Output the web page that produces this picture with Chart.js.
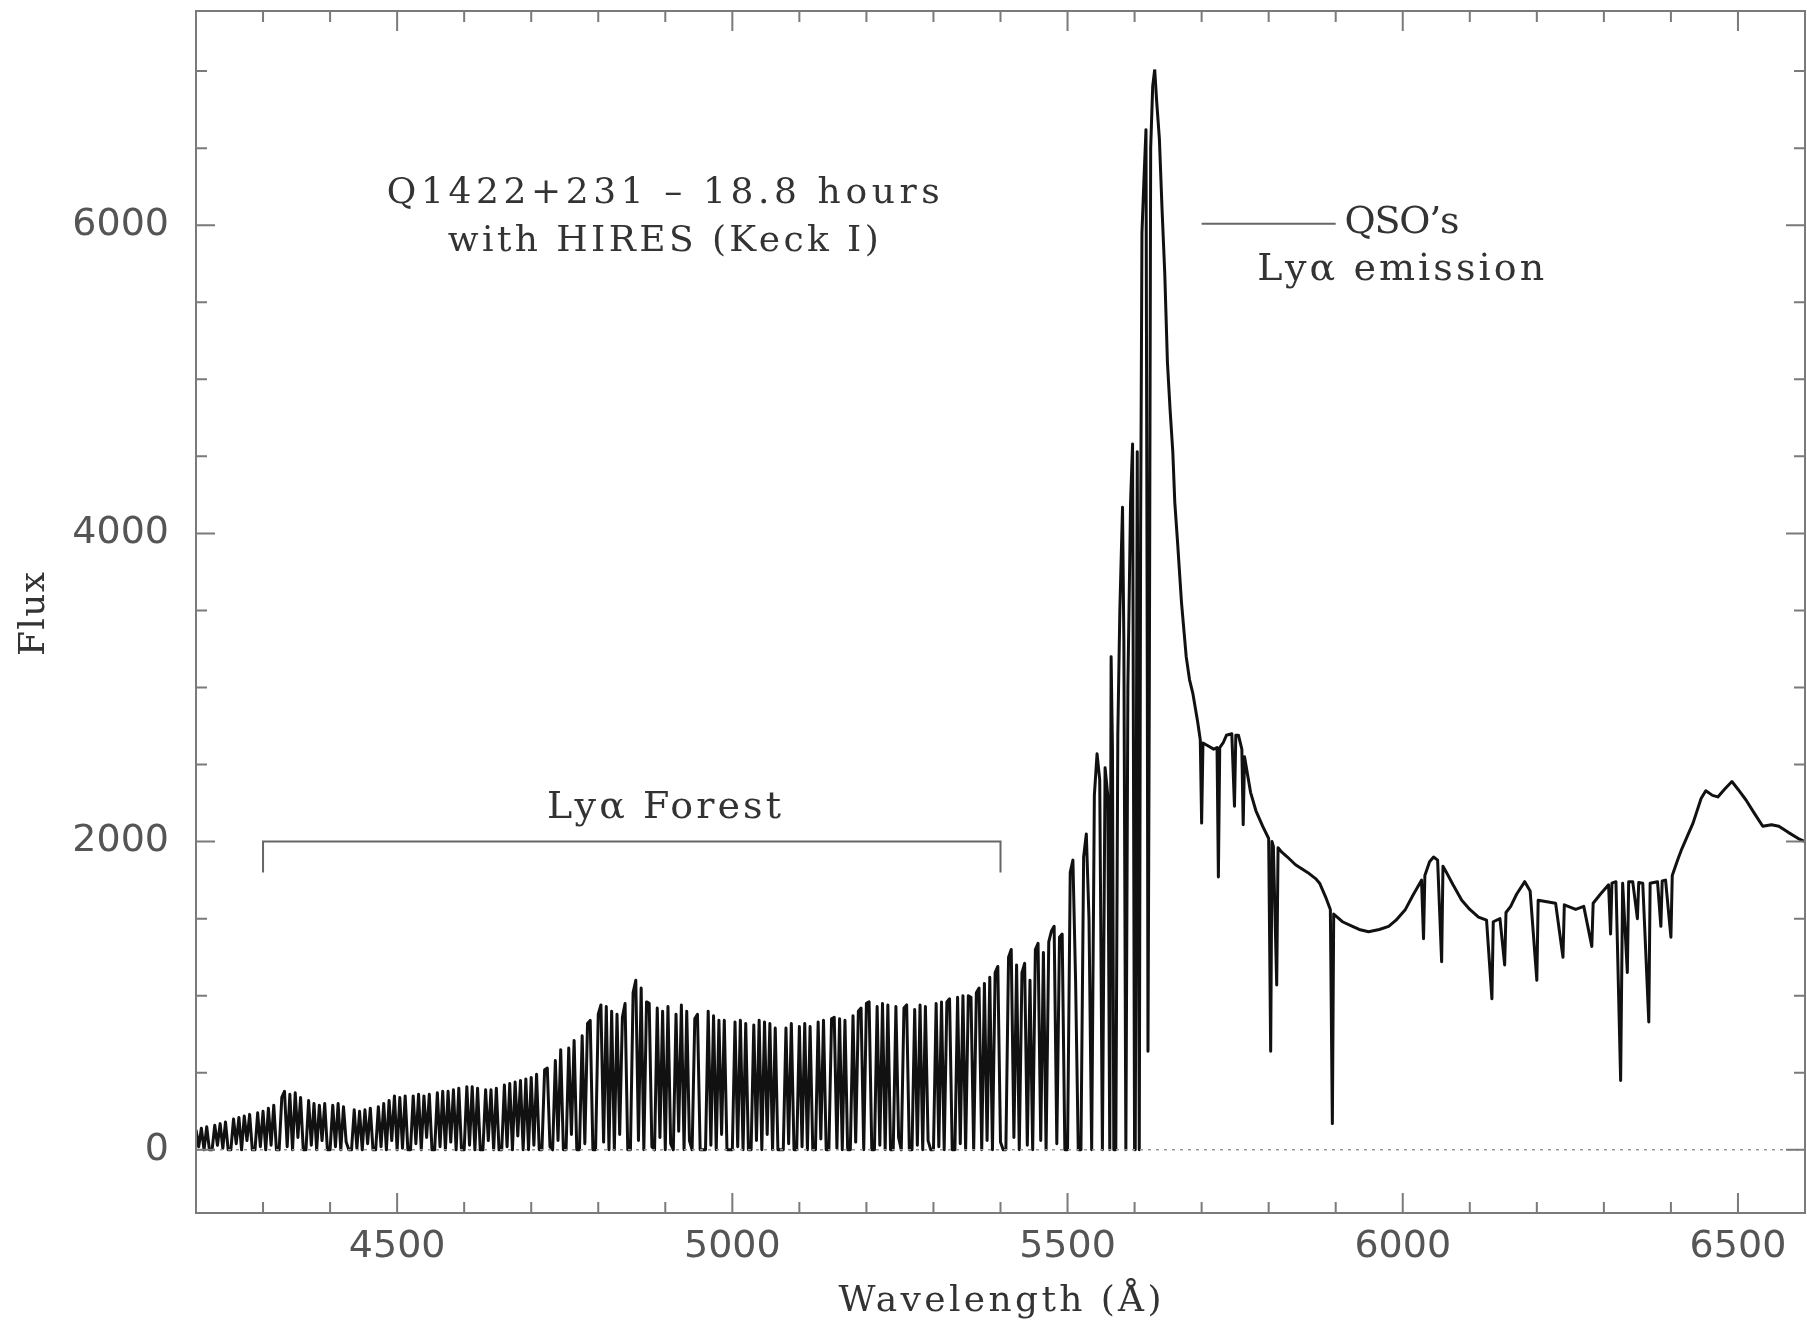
<!DOCTYPE html>
<html>
<head>
<meta charset="utf-8">
<script src="https://cdn.jsdelivr.net/npm/chart.js@4.4.1/dist/chart.umd.min.js"></script>
<style>
  html, body { margin: 0; padding: 0; background: #fff; }
  #wrap { width: 1807px; height: 1326px; }
</style>
</head>
<body>
<div id="wrap"><canvas id="spec"></canvas></div>
<script>
// ——— Data read off the plot ———
// Lyα forest, sampled every 4 Å from 4200 Å
const forestStart = 4200, forestStep = 4;
const forestFlux = [
  130, 20, 140, 0, 150, 0, 0, 160, 30, 170, 10, 180, 0, 0, 200, 40, 210, 0, 220, 60, 230, 0, 0, 240, 20,
  250, 0, 270, 30, 290, 0, 0, 340, 380, 20, 360, 0, 370, 80, 340, 0, 0, 320, 30, 300, 0, 290, 60, 300, 0,
  0, 290, 20, 300, 0, 280, 50, 0, 0, 260, 10, 250, 0, 260, 40, 270, 0, 0, 280, 20, 300, 0, 320, 60, 350,
  0, 340, 10, 350, 0, 0, 350, 40, 360, 0, 350, 80, 360, 0, 0, 370, 20, 380, 0, 380, 50, 390, 0, 400, 0,
  0, 410, 30, 410, 0, 400, 0, 0, 390, 60, 390, 0, 400, 0, 0, 420, 20, 430, 0, 440, 90, 450, 0, 460, 0,
  470, 30, 490, 0, 0, 520, 530, 20, 0, 580, 60, 650, 0, 0, 660, 100, 710, 0, 0, 740, 40, 820, 840, 0, 0,
  880, 940, 50, 930, 0, 900, 0, 880, 100, 860, 950, 0, 0, 1020, 1100, 60, 1050, 0, 960, 950, 20, 0, 920, 80, 900,
  0, 930, 40, 0, 880, 120, 940, 0, 900, 60, 0, 850, 880, 0, 0, 0, 900, 30, 870, 0, 840, 100, 840, 0, 0,
  0, 830, 20, 840, 0, 820, 0, 0, 810, 60, 840, 0, 830, 100, 820, 0, 790, 0, 0, 0, 790, 40, 820, 0, 0,
  800, 20, 820, 0, 800, 0, 0, 830, 70, 840, 0, 0, 850, 860, 10, 850, 0, 840, 0, 0, 870, 50, 900, 920, 0,
  950, 960, 0, 0, 930, 30, 950, 0, 940, 0, 0, 930, 80, 0, 920, 940, 0, 0, 910, 30, 940, 0, 930, 60, 0,
  0, 950, 20, 960, 0, 960, 980, 0, 0, 990, 40, 1000, 0, 1000, 990, 0, 1020, 1050, 0, 1080, 60, 1120, 0, 1150, 1190,
  50, 0, 0, 1250, 1300, 80, 1200, 0, 1150, 1210, 30, 1100, 0, 1300, 1340, 60, 1280, 0, 1350, 1420, 1450, 40, 1380, 1400, 0,
  0, 1800, 1880, 1100, 0, 0, 1900, 2050, 1500, 0, 2300, 2570, 2400, 0, 2480, 2300
];

// blue wing of the Lyα emission line
const peakWave = [5563, 5565, 5567, 5569, 5572, 5575, 5578, 5582, 5584, 5587, 5590, 5594, 5597, 5600,
                  5601, 5604, 5606, 5607, 5609, 5611, 5614, 5617, 5619, 5620, 5622, 5624, 5627, 5630];
const peakFlux = [0, 3200, 2600, 0, 0, 2700, 3500, 4170, 3300, 0, 3000, 4200, 4580, 0,
                  0, 4530, 1500, 0, 4000, 5950, 6300, 6620, 3000, 640, 3000, 6500, 6900, 7010];

// red side: emission wing + continuum with metal lines
const redWave = [
  5630, 5633, 5637, 5641, 5645, 5649, 5653, 5657, 5660, 5664, 5670, 5677, 5682, 5687, 5694, 5698, 5700, 5702,
  5710, 5718, 5723, 5725, 5727, 5732, 5737, 5745, 5749, 5751, 5755, 5760, 5762, 5764, 5773, 5781, 5791, 5800,
  5803, 5805, 5807, 5812, 5814, 5820, 5828, 5840, 5858, 5870, 5876, 5885, 5892, 5895, 5897, 5910, 5925, 5935,
  5949, 5965, 5979, 5990, 6004, 6015, 6028, 6031, 6033, 6040, 6046, 6052, 6058, 6060, 6064, 6075, 6088, 6100,
  6113, 6125, 6133, 6135, 6145, 6152, 6154, 6161, 6170, 6182, 6190, 6200, 6202, 6215, 6228, 6239, 6241, 6258,
  6270, 6282, 6284, 6295, 6307, 6310, 6312, 6318, 6325, 6328, 6335, 6337, 6343, 6350, 6352, 6358, 6367, 6369,
  6380, 6385, 6387, 6392, 6400, 6402, 6410, 6416, 6425, 6433, 6445, 6452, 6462, 6470, 6480, 6491, 6500, 6512,
  6525, 6537, 6550, 6561, 6575, 6590, 6600
];
const redFlux = [
  7010, 6800, 6560, 6100, 5690, 5110, 4800, 4530, 4200, 3950, 3550, 3200, 3050, 2960, 2780, 2660, 2120, 2640,
  2620, 2600, 2610, 1770, 2610, 2640, 2690, 2700, 2230, 2690, 2690, 2600, 2110, 2550, 2320, 2200, 2100, 2020,
  640, 2000, 1970, 1070, 1960, 1930, 1900, 1850, 1800, 1760, 1730, 1640, 1560, 170, 1530, 1480, 1450, 1430,
  1415, 1430, 1450, 1490, 1560, 1650, 1750, 1370, 1780, 1870, 1900, 1880, 1220, 1840, 1810, 1720, 1620, 1560,
  1510, 1490, 980, 1480, 1500, 1200, 1540, 1580, 1660, 1740, 1680, 1100, 1620, 1610, 1600, 1250, 1590, 1560,
  1580, 1320, 1600, 1660, 1720, 1400, 1730, 1740, 450, 1730, 1150, 1740, 1740, 1500, 1735, 1730, 830, 1730,
  1740, 1450, 1745, 1750, 1380, 1780, 1880, 1950, 2040, 2120, 2280, 2330, 2300, 2290, 2340, 2390, 2340, 2270,
  2180, 2100, 2110, 2100, 2060, 2020, 2000
];

// axes
const xRange = [4200, 6600], yRange = [-410, 7390];
const xTicks = [4500, 5000, 5500, 6000, 6500];
const yTicks = [0, 2000, 4000, 6000];

// annotation marks (data units)
const forestBracket = [[4300, 1800], [4300, 2000], [5400, 2000], [5400, 1800]];
const qsoPointer = [[5700, 6010], [5900, 6010]];

const toXY = (w, f) => w.map((v, i) => ({ x: v, y: f[i] }));
const forestData = forestFlux.map((f, i) => ({ x: forestStart + i * forestStep, y: f }))
  .concat(toXY(peakWave, peakFlux));

// ——— Frame, inward ticks and labels ———
const SERIF = '"DejaVu Serif", "Liberation Serif", serif';

function fitText(ctx, str, cx, cy, width, size) {
  ctx.font = size + 'px ' + SERIF;
  ctx.letterSpacing = '0px';
  const n = Array.from(str).length;
  const w0 = ctx.measureText(str).width;
  ctx.letterSpacing = ((width - w0) / Math.max(n - 1, 1)) + 'px';
  ctx.textAlign = 'left';
  ctx.textBaseline = 'middle';
  ctx.fillText(str, cx - width / 2, cy);
  ctx.letterSpacing = '0px';
}

const overlay = {
  id: 'overlay',
  afterDatasetsDraw(chart) {
    const { ctx, chartArea: a, scales: { x, y } } = chart;
    ctx.save();
    ctx.strokeStyle = '#7a7a7a';
    ctx.lineWidth = 2;
    ctx.strokeRect(a.left, a.top, a.right - a.left, a.bottom - a.top);
    ctx.beginPath();
    for (let v = 4300; v <= 6500; v += 100) {
      const px = x.getPixelForValue(v), len = v % 500 === 0 ? 20 : 11;
      ctx.moveTo(px, a.bottom); ctx.lineTo(px, a.bottom - len);
      ctx.moveTo(px, a.top); ctx.lineTo(px, a.top + len);
    }
    for (let v = 0; v <= 7000; v += 500) {
      const py = y.getPixelForValue(v), len = v % 2000 === 0 ? 19 : 11;
      ctx.moveTo(a.left, py); ctx.lineTo(a.left + len, py);
      ctx.moveTo(a.right, py); ctx.lineTo(a.right - len, py);
    }
    ctx.stroke();

    ctx.fillStyle = '#333';
    const X = v => x.getPixelForValue(v), Y = v => y.getPixelForValue(v);
    fitText(ctx, 'Q1422+231 \u2013 18.8 hours', X(4897), Y(6208), 553, 36);
    fitText(ctx, 'with HIRES (Keck I)', X(4897), Y(5895), 431, 36);
    fitText(ctx, 'Ly\u03b1 Forest', X(4898), Y(2215), 234, 38);
    fitText(ctx, 'QSO\u2019s', X(5999), Y(6015), 115, 38);
    fitText(ctx, 'Ly\u03b1 emission', X(5997), Y(5709), 287, 38);

    // axis titles
    fitText(ctx, 'Wavelength (\u00c5)', 1000, 1302, 323, 36);
    ctx.translate(35, 614);
    ctx.rotate(-Math.PI / 2);
    fitText(ctx, 'Flux', 0, 0, 84, 36);
    ctx.restore();
  }
};

new Chart(document.getElementById('spec'), {
  type: 'line',
  data: {
    datasets: [
      { data: [{ x: xRange[0], y: 0 }, { x: xRange[1], y: 0 }], borderColor: '#9a9a9a',
        borderWidth: 1.5, borderDash: [3, 5] },
      { data: forestBracket.map(p => ({ x: p[0], y: p[1] })), borderColor: '#666', borderWidth: 2 },
      { data: qsoPointer.map(p => ({ x: p[0], y: p[1] })), borderColor: '#666', borderWidth: 2 },
      { data: forestData, borderColor: '#111', borderWidth: 3, borderJoinStyle: 'round' },
      { data: toXY(redWave, redFlux), borderColor: '#111', borderWidth: 3, borderJoinStyle: 'round' }
    ]
  },
  options: {
    responsive: true,
    maintainAspectRatio: false,
    animation: false,
    parsing: false,
    normalized: true,
    layout: { padding: { top: 11, right: 2, left: 0, bottom: 0 } },
    elements: { point: { radius: 0 }, line: { tension: 0, fill: false } },
    plugins: { legend: { display: false }, tooltip: { enabled: false } },
    scales: {
      x: {
        type: 'linear', min: xRange[0], max: xRange[1],
        grid: { display: false, drawTicks: false }, border: { display: false },
        afterBuildTicks: s => { s.ticks = xTicks.map(v => ({ value: v })); },
        afterFit: s => { s.height = 113; s.paddingLeft = 0; s.paddingRight = 0; },
        ticks: { padding: 11, color: '#555', maxRotation: 0, callback: v => String(v),
                 font: { family: '"DejaVu Sans", sans-serif', size: 38 } }
      },
      y: {
        type: 'linear', min: yRange[0], max: yRange[1],
        grid: { display: false, drawTicks: false }, border: { display: false },
        afterBuildTicks: s => { s.ticks = yTicks.map(v => ({ value: v })); },
        afterFit: s => { s.width = 196; s.paddingTop = 0; s.paddingBottom = 0; },
        ticks: { padding: 27, color: '#555', callback: v => String(v),
                 font: { family: '"DejaVu Sans", sans-serif', size: 38 } }
      }
    }
  },
  plugins: [overlay]
});
</script>
</body>
</html>
